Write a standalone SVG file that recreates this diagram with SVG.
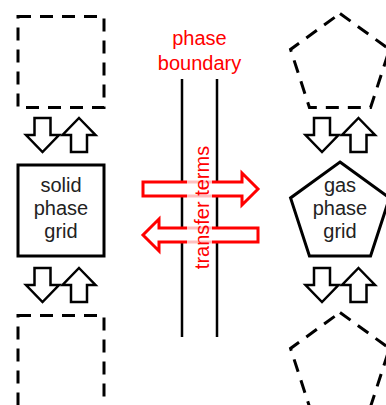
<svg xmlns="http://www.w3.org/2000/svg" width="386" height="405" viewBox="0 0 386 405">
<defs>
<style>
.dash{fill:none;stroke:#000;stroke-width:3;stroke-dasharray:13,9}
.solid{fill:#fff;stroke:#000;stroke-width:3}
.lbl{font-family:"Liberation Sans",Arial,sans-serif;font-size:20px;text-anchor:middle;fill:#222}
.red{font-family:"Liberation Sans",Arial,sans-serif;font-size:20px;text-anchor:middle;fill:#f00}
.bar{stroke:#000;stroke-width:2.5}
.barr{fill:#fff;stroke:#000;stroke-width:2.5;stroke-linejoin:miter}
.rarr{fill:#fff;stroke:#f00;stroke-width:3;stroke-linejoin:miter}
</style>
<polygon id="down" points="-8,0 8,0 8,17 16.5,17 0,34 -16.5,17 -8,17"/>
<polygon id="up" points="0,0 16.5,17 8,17 8,34 -8,34 -8,17 -16.5,17"/>
</defs>
<rect width="386" height="405" fill="#fff"/>
<g id="solid-top"><rect class="dash" x="18" y="16.5" width="86" height="91"/></g>
<g id="solid-grid"><rect class="solid" x="18" y="165" width="86" height="91"/>
<text class="lbl" x="61" y="192">solid</text><text class="lbl" x="61" y="215">phase</text><text class="lbl" x="61" y="238">grid</text></g>
<g id="solid-bottom"><rect class="dash" x="18" y="315.5" width="86" height="91"/></g>
<g id="gas-top"><polygon class="dash" points="340,13.5 389.45,49.43 370.56,107.57 309.44,107.57 290.55,49.43"/></g>
<g id="gas-grid"><polygon class="solid" points="340,162 389.45,197.93 370.56,256.07 309.44,256.07 290.55,197.93"/>
<text class="lbl" x="340" y="192">gas</text><text class="lbl" x="340" y="215">phase</text><text class="lbl" x="340" y="238">grid</text></g>
<g id="gas-bottom"><polygon class="dash" points="340,312.5 389.45,348.43 370.56,406.57 309.44,406.57 290.55,348.43"/></g>
<g id="boundary">
<text class="red" x="199.5" y="45" font-size="21">phase</text><text class="red" x="199.5" y="70" font-size="21">boundary</text>
<line class="bar" x1="182" y1="79" x2="182" y2="337"/>
<line class="bar" x1="217" y1="79" x2="217" y2="337"/>
</g>
<g id="connectors">
<use href="#down" class="barr" x="42.5" y="118"/>
<use href="#up" class="barr" x="79" y="118"/>
<use href="#down" class="barr" x="42.5" y="268"/>
<use href="#up" class="barr" x="79" y="268"/>
<use href="#down" class="barr" x="322" y="118"/>
<use href="#up" class="barr" x="358.5" y="118"/>
<use href="#down" class="barr" x="322" y="268"/>
<use href="#up" class="barr" x="358.5" y="268"/>
<polygon class="rarr" points="143,182 242,182 242,173 258,189 242,205 242,196 143,196"/>
<polygon class="rarr" points="258,228 159,228 159,219 143,235 159,251 159,242 258,242"/>
</g>
<g id="transfer-label">
<rect x="187" y="131" width="25" height="152" fill="#fff" fill-opacity="0.75"/>
<text class="red" transform="translate(208.5,207.5) rotate(-90)" x="0" y="0" font-size="23">transfer terms</text>
</g>
</svg>
